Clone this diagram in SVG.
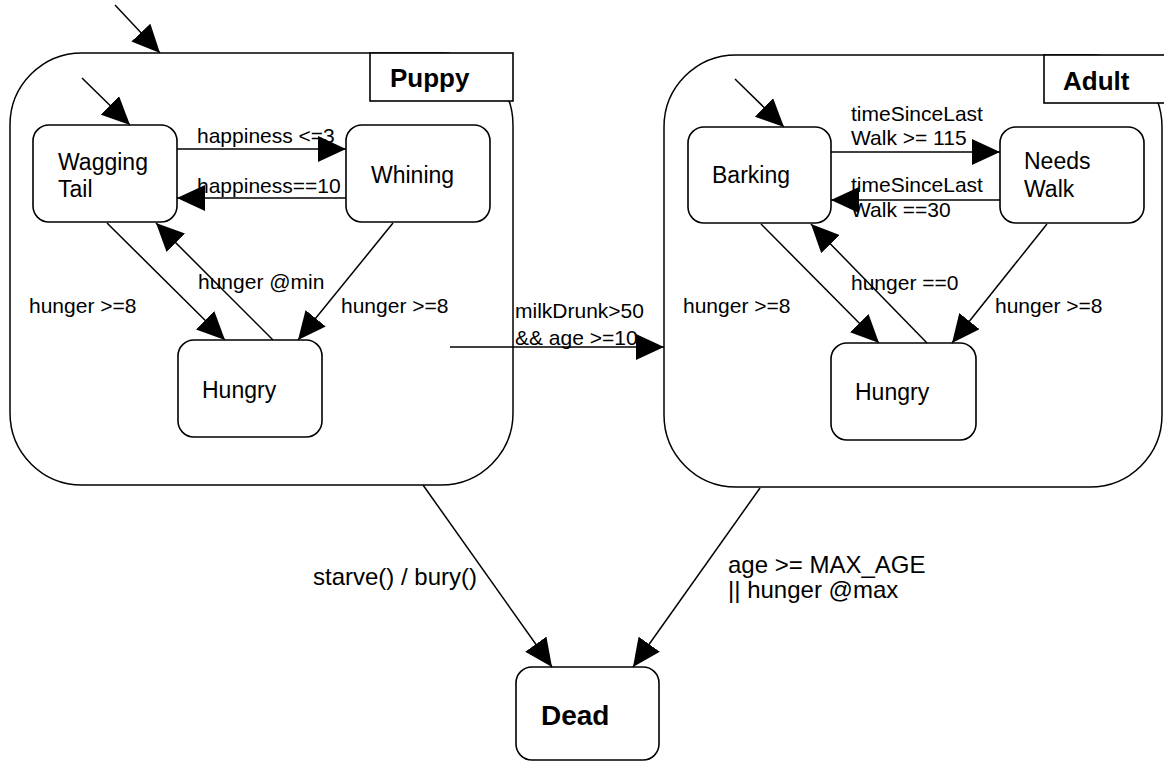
<svg xmlns="http://www.w3.org/2000/svg" width="1164" height="763" viewBox="0 0 1164 763">
<style>
.box{fill:#fff;stroke:#000;stroke-width:1.6}
.cont{fill:#fff;stroke:#000;stroke-width:1.5}
.t{font-family:"Liberation Sans",Arial,sans-serif;font-size:23px;fill:#000}
.b{font-family:"Liberation Sans",Arial,sans-serif;font-size:26px;font-weight:bold;fill:#000}
.l{font-family:"Liberation Sans",Arial,sans-serif;font-size:21px;fill:#000}
.lb{font-family:"Liberation Sans",Arial,sans-serif;font-size:24px;fill:#000}
.c{stroke:#000;stroke-width:1.5;fill:none;marker-end:url(#ah)}
</style>
<defs>
<marker id="ah" markerUnits="userSpaceOnUse" viewBox="0 0 28 26" refX="28" refY="13" markerWidth="28" markerHeight="26" orient="auto">
<path d="M0,0 L28,13 L0,26 Z" fill="#000"/>
</marker>
</defs>
<rect width="1164" height="763" fill="#fff"/>

<g id="puppy">
<rect class="cont" x="10" y="53" width="503" height="432" rx="72" ry="72"/>
<rect class="box" x="370" y="53" width="143" height="48"/>
<text class="b" x="390" y="87">Puppy</text>
</g>
<g id="adult">
<rect class="cont" x="664" y="55" width="498" height="432" rx="72" ry="72"/>
<rect class="box" x="1044" y="55" width="125" height="48"/>
<text class="b" x="1063" y="90">Adult</text>
</g>

<g id="wagging">
<rect class="box" x="33" y="125" width="144" height="97" rx="16"/>
<text class="t" x="58" y="170">Wagging</text>
<text class="t" x="58" y="197">Tail</text>
</g>
<g id="whining">
<rect class="box" x="346" y="125" width="144" height="97" rx="16"/>
<text class="t" x="371" y="183">Whining</text>
</g>
<g id="puppy-hungry">
<rect class="box" x="178" y="340" width="144" height="97" rx="16"/>
<text class="t" x="202" y="398">Hungry</text>
</g>
<g id="barking">
<rect class="box" x="688" y="127" width="143" height="96" rx="16"/>
<text class="t" x="712" y="183">Barking</text>
</g>
<g id="needswalk">
<rect class="box" x="1000" y="127" width="144" height="96" rx="16"/>
<text class="t" x="1024" y="169">Needs</text>
<text class="t" x="1024" y="197">Walk</text>
</g>
<g id="adult-hungry">
<rect class="box" x="831" y="343" width="145" height="97" rx="16"/>
<text class="t" x="855" y="400">Hungry</text>
</g>
<g id="dead">
<rect class="box" x="516" y="667" width="143" height="93" rx="16"/>
<text class="b" x="541" y="725" style="font-size:28px">Dead</text>
</g>

<g id="connectors">
<g id="labels">
<text class="l" x="197" y="143">happiness &lt;=3</text>
<text class="l" x="197" y="193">happiness==10</text>
<text class="l" x="29" y="313">hunger &gt;=8</text>
<text class="l" x="198" y="289">hunger @min</text>
<text class="l" x="341" y="313">hunger &gt;=8</text>
<text class="l" x="515" y="318">milkDrunk&gt;50</text>
<text class="l" x="515" y="345">&amp;&amp; age &gt;=10</text>
<text class="l" x="851" y="121">timeSinceLast</text>
<text class="l" x="851" y="145">Walk &gt;= 115</text>
<text class="l" x="851" y="192">timeSinceLast</text>
<text class="l" x="851" y="217">Walk ==30</text>
<text class="l" x="683" y="313">hunger &gt;=8</text>
<text class="l" x="851" y="290">hunger ==0</text>
<text class="l" x="995" y="313">hunger &gt;=8</text>
<text class="lb" x="313" y="585">starve() / bury()</text>
<text class="lb" x="728" y="573">age &gt;= MAX_AGE</text>
<text class="lb" x="728" y="598">|| hunger @max</text>
</g>
<line class="c" x1="115" y1="5" x2="160" y2="53"/>
<line class="c" x1="82" y1="78" x2="130" y2="125"/>
<line class="c" x1="177" y1="149" x2="346" y2="149"/>
<line class="c" x1="346" y1="198" x2="177" y2="198"/>
<line class="c" x1="107" y1="223" x2="225" y2="340"/>
<line class="c" x1="273" y1="340" x2="156" y2="223"/>
<line class="c" x1="393" y1="223" x2="298" y2="340"/>
<line class="c" x1="450" y1="347" x2="664" y2="347"/>
<line class="c" x1="735" y1="79" x2="784" y2="127"/>
<line class="c" x1="831" y1="152" x2="1000" y2="152"/>
<line class="c" x1="1000" y1="200" x2="831" y2="200"/>
<line class="c" x1="761" y1="224" x2="879" y2="343"/>
<line class="c" x1="927" y1="343" x2="811" y2="224"/>
<line class="c" x1="1047" y1="224" x2="952" y2="343"/>
<line class="c" x1="423" y1="485" x2="552" y2="667"/>
<line class="c" x1="760" y1="488" x2="633" y2="667"/>
</g>
</svg>
